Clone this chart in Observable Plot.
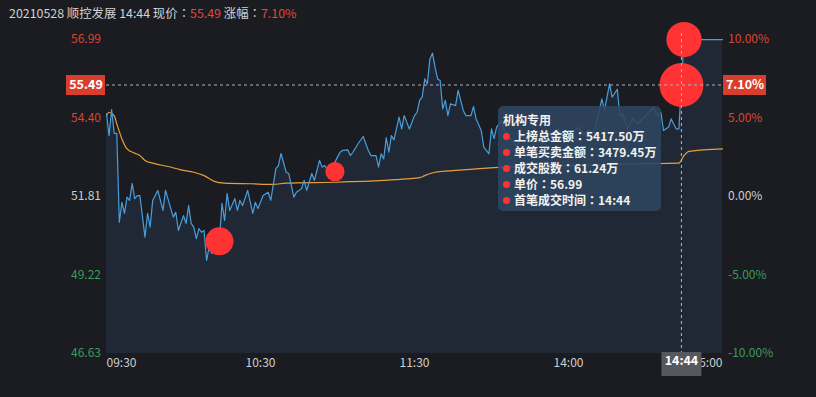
<!DOCTYPE html>
<html><head><meta charset="utf-8">
<script src="https://cdn.jsdelivr.net/npm/d3@7"></script>
<script src="https://cdn.jsdelivr.net/npm/@observablehq/plot@0.6"></script>
<style>
html,body{margin:0;padding:0;background:#1a1c21;}
#wrap{position:relative;width:816px;height:397px;overflow:hidden;font-family:"Noto Sans CJK SC","Noto Sans",sans-serif;}
#title{position:absolute;left:9px;top:5px;font-size:12.4px;line-height:16px;color:#d2d2d2;white-space:nowrap;}
#title .up{color:#e0463a;}
.c{font-family:"Noto Sans CJK TC","Noto Sans CJK SC",sans-serif;}
#tip{position:absolute;left:498px;top:106px;width:163px;height:105px;box-sizing:border-box;padding:6px 5px;background:rgba(47,69,97,0.88);border-radius:5px;color:#f2f2f2;font-size:12px;font-weight:bold;line-height:16px;white-space:nowrap;}
#tip .b{display:inline-block;width:7px;height:7px;border-radius:50%;background:#ff3333;margin-right:4px;vertical-align:middle;position:relative;top:-1px;}
</style></head>
<body><div id="wrap"><div id="chart"></div><div id="title"></div><div id="tip"></div></div>
<script>
// ---- data ----
const dateLabel = "20210528";
const stockName = "顺控发展";
const currentTime = "14:44";
const prevClose = 51.81;
const currentPrice = 55.49;
const currentPct = 7.10;
const currentMinute = 224;

const minutes = [0,1,2,3,4,5,6,7,8,9,10,11,12,13,15,16,17,18,20,22,23,26,27,28,30,31,32,33,34,35,36,37,38,39,40,41,42,43,44,45,46,47,48,50,51,52,53,55,57,58,59,61,63,64,66,67,68,70,71,73,74,76,77,78,80,81,83,84,85,87,90,91,92,94,95,96,98,100,102,103,105,106,107,108,109,110,111,112,114,115,116,118,120,121,122,123,124,125,126,127,128,129,130,131,132,133,134,136,137,139,140,142,143,144,146,147,148,149,150,151,152,154,155,158,160,162,164,166,168,170,172,174,176,178,180,182,184,186,188,190,193,194,196,197,199,200,201,203,205,207,210,213,215,216,217,219,220,222,223,224,225,240];
const prices = [54.54,53.82,54.68,53.89,53.89,50.96,51.62,51.25,51.79,51.68,52.24,51.74,51.84,51.84,50.47,51.25,50.80,51.68,52.01,51.35,52.01,51.13,51.29,50.69,51.18,50.92,51.51,50.92,50.80,50.42,50.75,50.63,50.69,49.70,50.14,49.93,50.03,50.20,50.40,51.58,51.02,51.91,51.35,51.74,51.35,51.68,51.51,52.01,51.25,51.62,51.41,51.84,51.95,51.68,52.73,52.83,53.23,52.61,52.57,51.79,51.95,52.07,52.34,52.01,52.57,52.34,53.00,52.78,52.83,52.61,53.11,53.27,53.33,53.35,53.16,53.27,53.55,53.79,53.33,53.16,53.16,52.78,53.22,53.05,53.75,53.27,53.82,53.68,54.43,54.04,54.48,54.04,54.48,54.59,54.98,55.09,55.69,55.53,56.35,56.54,56.08,55.69,55.64,54.70,54.98,54.48,54.87,54.81,55.31,54.65,54.48,54.48,54.78,54.37,53.99,53.44,53.33,53.22,54.04,53.72,54.10,54.32,53.99,53.66,53.45,53.85,53.60,53.95,53.70,53.55,53.90,53.75,54.05,53.80,53.60,53.95,54.10,53.85,54.00,53.90,55.03,54.65,55.53,55.09,55.35,54.48,54.55,54.04,54.37,54.21,54.48,54.74,54.48,54.59,53.99,54.10,54.37,54.04,54.04,55.49,56.99,56.99];

const avgMinutes = [0,1,3,4,6,8,11,13,15,18,24,29,34,38,42,46,56,65,70,89,108,117,122,124,128,136,155,181,207,223,225,227,240];
const avgPrices = [54.48,54.59,54.48,54.21,53.71,53.38,53.24,53.16,53.00,52.91,52.80,52.69,52.61,52.50,52.31,52.25,52.23,52.21,52.25,52.28,52.34,52.39,52.43,52.50,52.61,52.67,52.78,52.83,52.89,52.91,53.16,53.30,53.38];

const bubbleMinutes = [44, 89, 225, 224];
const bubblePrices = [50.33, 52.63, 56.99, 55.49];
const bubbleAmounts = [2200, 1030, 3479.45, 5417.50];

const pctTicks = [10, 5, 0, -5, -10];
const priceTickLabels = ["56.99","54.40","51.81","49.22","46.63"];
const pctTickLabels = ["10.00%","5.00%","0.00%","-5.00%","-10.00%"];
const xTickMinutes = [0, 60, 120, 180, 240];
const xTickLabels = ["09:30","10:30","11:30","14:00","15:00"];

const tipTitle = "机构专用";
const tipKeys = ["上榜总金额","单笔买卖金额","成交股数","单价","首笔成交时间"];
const tipValues = ["5417.50万","3479.45万","61.24万","56.99","14:44"];

// ---- derived ----
const upColor = "#dc4434", flatColor = "#cfcfcf", downColor = "#3c9b5e";
const series = minutes.map((t,i)=>({t, price: prices[i]}));
const avg = avgMinutes.map((t,i)=>({t, price: avgPrices[i]}));
const bubbles = bubbleMinutes.map((t,i)=>({t, price: bubblePrices[i], amount: bubbleAmounts[i]}));
const tickPrices = pctTicks.map(p => prevClose*(1+p/100));
const yMin = d3.min(tickPrices), yMax = d3.max(tickPrices);
const idxOf = v => tickPrices.findIndex(q => Math.abs(q - v) < 1e-6);
const priceLab = v => priceTickLabels[idxOf(v)];
const pctLab = v => pctTickLabels[idxOf(v)];
const xLab = v => xTickLabels[xTickMinutes.indexOf(v)];
const group = f => tickPrices.filter((q,i) => f(pctTicks[i]));
const font = "'Noto Sans CJK SC','Noto Sans',sans-serif";

function yAxes(anchor, fmt) {
  return [[p=>p>0, upColor],[p=>p===0, flatColor],[p=>p<0, downColor]].map(([f,c]) =>
    Plot.axisY({anchor, ticks: group(f), tickFormat: fmt, tickSize: 0, tickPadding: 5.5, label: null, fill: c, fontSize: 12}));
}

const chart = Plot.plot({
  width: 816, height: 397,
  marginLeft: 106, marginRight: 94, marginTop: 39, marginBottom: 44,
  style: {background: "transparent", fontFamily: font, fontSize: "12px", color: flatColor},
  x: {domain: [0, 240]},
  y: {domain: [yMin, yMax]},
  r: {range: [0, 22]},
  marks: [
    Plot.areaY(series, {x: "t", y1: yMin, y2: "price", fill: "#1f2834"}),
    Plot.line(avg, {x: "t", y: "price", stroke: "#e6a03a", strokeWidth: 1.2, curve: "monotone-x"}),
    Plot.line(series, {x: "t", y: "price", stroke: "#4a9edb", strokeWidth: 1.2}),
    Plot.dot(bubbles, {x: "t", y: "price", r: "amount", fill: "#ff3333"}),
    Plot.ruleY([currentPrice], {stroke: "#b4b4b4", strokeDasharray: "3,3", strokeWidth: 1}),
    Plot.ruleX([currentMinute], {stroke: "#b4b4b4", strokeDasharray: "3,3", strokeWidth: 1, insetTop: -6}),
    ...yAxes("left", priceLab),
    ...yAxes("right", pctLab),
    Plot.axisX({ticks: [xTickMinutes[0]], tickFormat: xLab, tickSize: 0, tickPadding: 5, textAnchor: "start", label: null, fill: flatColor, fontSize: 12}),
    Plot.axisX({ticks: xTickMinutes.slice(1, -1), tickFormat: xLab, tickSize: 0, tickPadding: 5, label: null, fill: flatColor, fontSize: 12}),
    Plot.axisX({ticks: [xTickMinutes[4]], tickFormat: xLab, tickSize: 0, tickPadding: 5, textAnchor: "end", label: null, fill: flatColor, fontSize: 12}),
    // current price badges
    Plot.ruleY([currentPrice], {stroke: "#d83e2d", strokeWidth: 20, insetLeft: -40, insetRight: 617}),
    Plot.text([currentPrice], {y: d => d, frameAnchor: "left", dx: -20.5, textAnchor: "middle", text: d => d.toFixed(2), fill: "#ffffff", fontWeight: "bold", fontSize: 12.5}),
    Plot.ruleY([currentPrice], {stroke: "#d83e2d", strokeWidth: 20, insetLeft: 617, insetRight: -44}),
    Plot.text([currentPrice], {y: d => d, frameAnchor: "right", dx: 22.5, textAnchor: "middle", text: () => currentPct.toFixed(2) + "%", fill: "#ffffff", fontWeight: "bold", fontSize: 12.5}),
    Plot.ruleX([currentMinute], {stroke: "#55585d", strokeWidth: 40, insetTop: 313, insetBottom: -23}),
    Plot.text([currentMinute], {x: d => d, frameAnchor: "bottom", dy: 11.5, text: () => currentTime, fill: "#ffffff", fontWeight: "bold", fontSize: 12.5})
  ]
});
document.getElementById("chart").appendChild(chart);

// title
const title = document.getElementById("title");
title.innerHTML = `${dateLabel} ${stockName} ${currentTime} 现价<span class="c">：</span><span class="up">${currentPrice.toFixed(2)}</span> 涨幅<span class="c">：</span><span class="up">${currentPct.toFixed(2)}%</span>`;

// tooltip
const tip = document.getElementById("tip");
tip.innerHTML = `<div>${tipTitle}</div>` + tipKeys.map((k,i)=>`<div><span class="b"></span>${k}<span class="c">：</span>${tipValues[i]}</div>`).join("");
</script>
</body></html>
